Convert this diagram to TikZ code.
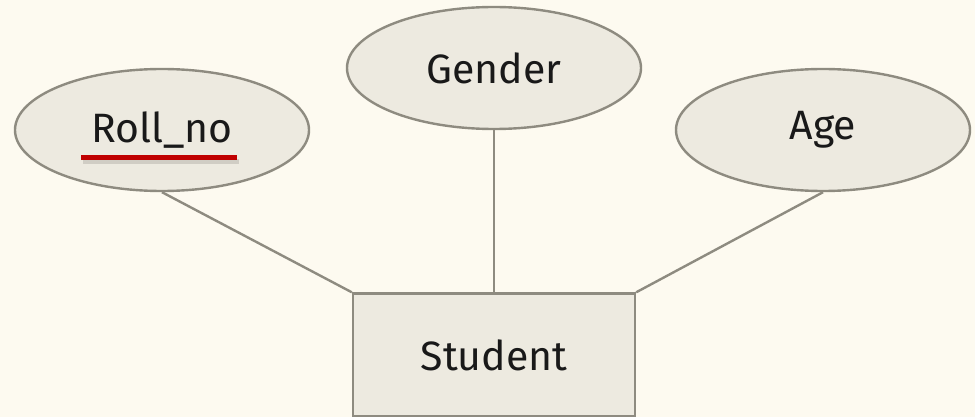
\documentclass[tikz,border=0pt]{standalone}
\usepackage{fontspec}
\setmainfont{Fira Sans}
\usetikzlibrary{shapes.geometric}
\definecolor{bgc}{HTML}{FDFAF0}
\definecolor{fillc}{HTML}{EDEAE0}
\definecolor{strokec}{HTML}{8E8B80}
\definecolor{redc}{HTML}{C00000}
\tikzset{
  attr/.style={ellipse, draw=strokec, fill=fillc, line width=2.4pt, minimum width=294pt, minimum height=122pt, inner sep=0pt, font=\fontsize{41}{41}\selectfont, text=black!90},
  entity/.style={rectangle, draw=strokec, fill=fillc, line width=2.4pt, minimum width=282pt, minimum height=123pt, inner sep=0pt, font=\fontsize{41}{41}\selectfont, text=black!90},
  conn/.style={draw=strokec, line width=2.4pt}
}
\begin{document}
\begin{tikzpicture}[x=1pt,y=-1pt]
\fill[bgc] (0,0) rectangle (975,417);
\useasboundingbox (0,0) rectangle (975,417);
\node[attr] (roll) at (162,130) {Roll\_no};
\node[attr] (gender) at (494,68) {Gender};
\node[attr] (age) at (823,130) {Age};
\node[entity] (stu) at (494,355) {Student};
\draw[conn] (roll.south) -- (stu.north west);
\draw[conn] (gender.south) -- (stu.north);
\draw[conn] (age.south) -- (stu.north east);
\fill[black, opacity=0.12] (83,159) rectangle (239,164);
\fill[redc] (81,155) rectangle (237,160);
\end{tikzpicture}
\end{document}
